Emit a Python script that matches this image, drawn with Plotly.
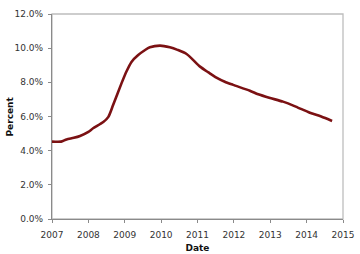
import plotly.graph_objects as go

dates = [2007.0, 2007.25, 2007.4, 2007.6, 2007.77, 2008.0, 2008.13, 2008.41, 2008.55,
         2008.68, 2008.91, 2009.05, 2009.19, 2009.37, 2009.55, 2009.69, 2009.97,
         2010.24, 2010.45, 2010.7, 2011.07, 2011.3, 2011.52, 2011.75, 2011.98,
         2012.44, 2012.67, 2013.0, 2013.35, 2013.7, 2014.09, 2014.4, 2014.7]
percent = [4.53, 4.53, 4.66, 4.75, 4.86, 5.1, 5.31, 5.68, 5.98,
           6.67, 7.94, 8.65, 9.21, 9.60, 9.88, 10.05, 10.15,
           10.05, 9.90, 9.66, 8.92, 8.58, 8.27, 8.03, 7.85,
           7.51, 7.30, 7.08, 6.87, 6.58, 6.22, 6.0, 5.74]

y_ticks = [0, 2, 4, 6, 8, 10, 12]
y_labels = ["0.0%", "2.0%", "4.0%", "6.0%", "8.0%", "10.0%", "12.0%"]
x_ticks = [2007, 2008, 2009, 2010, 2011, 2012, 2013, 2014, 2015]

fig = go.Figure()
fig.add_trace(go.Scatter(
    x=dates, y=percent, mode="lines",
    line=dict(color="#7b1113", width=2.6, shape="spline", smoothing=0.7),
    showlegend=False, hoverinfo="skip"))

font = "DejaVu Sans, Verdana, sans-serif"
fig.update_layout(
    width=360, height=254,
    margin=dict(l=52, r=17, t=14, b=35),
    paper_bgcolor="white", plot_bgcolor="white",
    font=dict(family=font, size=9, color="#333"),
    xaxis=dict(range=[2007, 2015], tickvals=x_ticks, ticktext=[str(v) for v in x_ticks],
               showgrid=False, zeroline=False, showline=True, linecolor="#8a8a8a",
               linewidth=1.3, ticks="outside", ticklen=3, tickcolor="#8a8a8a",
               ticklabelstandoff=4, automargin=False,
               title=dict(text="<b>Date</b>", standoff=5, font=dict(size=9, color="#111"))),
    yaxis=dict(range=[0, 12], tickvals=y_ticks, ticktext=y_labels,
               showgrid=False, zeroline=False, showline=True, linecolor="#8a8a8a",
               linewidth=1.3, ticks="outside", ticklen=3, tickcolor="#8a8a8a",
               ticklabelstandoff=3, automargin=False),
    annotations=[dict(text="<b>Percent</b>", xref="paper", yref="paper", x=0, y=0.5,
                      xanchor="center", yanchor="middle",
                      xshift=-43, textangle=-90, showarrow=False,
                      font=dict(size=9, color="#111"))],
    shapes=[dict(type="rect", xref="paper", yref="paper", x0=0, y0=0, x1=1, y1=1,
                 line=dict(color="#bdbdbd", width=1.3), layer="below")],
)

fig.write_html("out.html")
